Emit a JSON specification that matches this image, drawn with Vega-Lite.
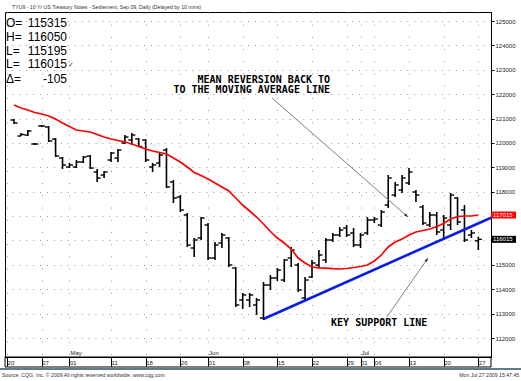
{
  "$schema": "https://vega.github.io/schema/vega-lite/v6.json",
  "width": 486,
  "height": 345,
  "autosize": {"type": "none"},
  "padding": {"left": 5, "top": 12, "right": 30, "bottom": 24},
  "background": "#ffffff",
  "config": {
    "view": {"stroke": "#000000", "strokeWidth": 1},
    "font": "Liberation Sans",
    "axis": {"labelOverlap": false, "labelFlush": false, "labelFontSize": 6, "labelColor": "#222222", "tickColor": "#000000", "domainColor": "#000000", "grid": true, "gridColor": "#999999", "gridWidth": 1, "title": null, "tickCount": 100},
    "axisX": {"labelAlign": "left", "labelBaseline": "top", "labelPadding": -7, "labelDx": 2, "tickSize": 9, "gridDash": [1, 11.19]},
    "axisY": {"labelPadding": 1, "tickSize": 3, "gridDash": [1, 5.93], "labelBaseline": "middle"}
  },
  "title": {"text": "TYU9 - 10 Yr US Treasury Notes - Settlement, Sep 09, Daily (Delayed by 10 mins)", "anchor": "start", "frame": "group", "fontSize": 5.2, "fontWeight": "normal", "color": "#333333", "offset": 3, "dx": 7, "dy": 6, "baseline": "bottom"},
  "datasets": {
    "bars": [
      {"i":1,"d":"2009-04-21","o":120942,"h":120983,"l":120778,"c":120819,"ma":121557},
      {"i":2,"d":"2009-04-22","o":120285,"h":120408,"l":120285,"c":120347,"ma":121434},
      {"i":3,"d":"2009-04-23","o":120326,"h":120532,"l":120285,"c":120491,"ma":121352},
      {"i":4,"d":"2009-04-24","o":119957,"h":119998,"l":119916,"c":119957,"ma":121249},
      {"i":5,"d":"2009-04-27","o":120696,"h":120737,"l":120655,"c":120696,"ma":121188},
      {"i":6,"d":"2009-04-28","o":120655,"h":120696,"l":120039,"c":120080,"ma":121106},
      {"i":7,"d":"2009-04-29","o":120162,"h":120203,"l":119424,"c":119465,"ma":120983},
      {"i":8,"d":"2009-04-30","o":119383,"h":119424,"l":118932,"c":119096,"ma":120819},
      {"i":9,"d":"2009-05-01","o":119014,"h":119178,"l":118973,"c":119096,"ma":120675},
      {"i":10,"d":"2009-05-04","o":119014,"h":119301,"l":118973,"c":119219,"ma":120532},
      {"i":11,"d":"2009-05-05","o":119219,"h":119465,"l":119178,"c":119424,"ma":120491},
      {"i":12,"d":"2009-05-06","o":119465,"h":119506,"l":118932,"c":118973,"ma":120450},
      {"i":13,"d":"2009-05-07","o":118809,"h":118932,"l":118399,"c":118563,"ma":120347},
      {"i":14,"d":"2009-05-08","o":118686,"h":118850,"l":118563,"c":118809,"ma":120244},
      {"i":15,"d":"2009-05-11","o":119301,"h":119629,"l":119219,"c":119588,"ma":120162},
      {"i":16,"d":"2009-05-12","o":119383,"h":119752,"l":119219,"c":119711,"ma":120101},
      {"i":17,"d":"2009-05-13","o":119998,"h":120326,"l":119957,"c":120244,"ma":120039},
      {"i":18,"d":"2009-05-14","o":120121,"h":120408,"l":119916,"c":120326,"ma":119957},
      {"i":19,"d":"2009-05-15","o":120162,"h":120203,"l":119834,"c":119855,"ma":119855},
      {"i":20,"d":"2009-05-18","o":120121,"h":120162,"l":119219,"c":119301,"ma":119752},
      {"i":21,"d":"2009-05-19","o":119014,"h":119178,"l":118809,"c":119096,"ma":119670},
      {"i":22,"d":"2009-05-20","o":119178,"h":119588,"l":119014,"c":119506,"ma":119609},
      {"i":23,"d":"2009-05-21","o":119711,"h":119793,"l":118153,"c":118194,"ma":119547},
      {"i":24,"d":"2009-05-22","o":118399,"h":118481,"l":117537,"c":117742,"ma":119383},
      {"i":25,"d":"2009-05-26","o":117783,"h":117865,"l":117168,"c":117250,"ma":119219},
      {"i":26,"d":"2009-05-27","o":117045,"h":117127,"l":115733,"c":115815,"ma":119014},
      {"i":27,"d":"2009-05-28","o":115692,"h":116102,"l":115322,"c":116020,"ma":118788},
      {"i":28,"d":"2009-05-29","o":116102,"h":116963,"l":116020,"c":116922,"ma":118665},
      {"i":29,"d":"2009-06-01","o":116635,"h":116717,"l":115199,"c":115281,"ma":118522},
      {"i":30,"d":"2009-06-02","o":115281,"h":115938,"l":115199,"c":115815,"ma":118358},
      {"i":31,"d":"2009-06-03","o":115897,"h":116307,"l":115692,"c":116225,"ma":118194},
      {"i":32,"d":"2009-06-04","o":116102,"h":116143,"l":114912,"c":114994,"ma":118029},
      {"i":33,"d":"2009-06-05","o":114871,"h":114912,"l":113272,"c":113354,"ma":117742},
      {"i":34,"d":"2009-06-08","o":113559,"h":113846,"l":113189,"c":113764,"ma":117455},
      {"i":35,"d":"2009-06-09","o":113559,"h":113846,"l":113272,"c":113764,"ma":117209},
      {"i":36,"d":"2009-06-10","o":113354,"h":113641,"l":112943,"c":113559,"ma":116963},
      {"i":37,"d":"2009-06-11","o":112820,"h":114297,"l":112738,"c":114174,"ma":116676},
      {"i":38,"d":"2009-06-12","o":114174,"h":114584,"l":113969,"c":114461,"ma":116368},
      {"i":39,"d":"2009-06-15","o":114461,"h":114871,"l":114338,"c":114789,"ma":116102},
      {"i":40,"d":"2009-06-16","o":114379,"h":115240,"l":114297,"c":115199,"ma":115897},
      {"i":41,"d":"2009-06-17","o":115281,"h":115733,"l":114912,"c":115609,"ma":115651},
      {"i":42,"d":"2009-06-18","o":114994,"h":115076,"l":113887,"c":113969,"ma":115281},
      {"i":43,"d":"2009-06-19","o":113641,"h":114502,"l":113559,"c":114379,"ma":115076},
      {"i":44,"d":"2009-06-22","o":114502,"h":115199,"l":114461,"c":115076,"ma":114912},
      {"i":45,"d":"2009-06-23","o":114994,"h":115609,"l":114871,"c":115404,"ma":114879},
      {"i":46,"d":"2009-06-24","o":115199,"h":116102,"l":115076,"c":116020,"ma":114863},
      {"i":47,"d":"2009-06-25","o":116020,"h":116307,"l":115938,"c":116225,"ma":114842},
      {"i":48,"d":"2009-06-26","o":116225,"h":116553,"l":116143,"c":116430,"ma":114830},
      {"i":49,"d":"2009-06-29","o":116512,"h":116635,"l":116143,"c":116225,"ma":114851},
      {"i":50,"d":"2009-06-30","o":116307,"h":116512,"l":115733,"c":115815,"ma":114892},
      {"i":51,"d":"2009-07-01","o":115815,"h":116307,"l":115692,"c":116225,"ma":114933},
      {"i":52,"d":"2009-07-02","o":116307,"h":116963,"l":116225,"c":116840,"ma":114994},
      {"i":53,"d":"2009-07-06","o":116840,"h":116963,"l":116717,"c":116881,"ma":115158},
      {"i":54,"d":"2009-07-07","o":116635,"h":117250,"l":116553,"c":117168,"ma":115404},
      {"i":55,"d":"2009-07-08","o":117455,"h":118686,"l":117332,"c":118563,"ma":115733},
      {"i":56,"d":"2009-07-09","o":117865,"h":118399,"l":117783,"c":118276,"ma":115938},
      {"i":57,"d":"2009-07-10","o":118071,"h":118686,"l":117947,"c":118563,"ma":116061},
      {"i":58,"d":"2009-07-13","o":118358,"h":118973,"l":118276,"c":118809,"ma":116225},
      {"i":59,"d":"2009-07-14","o":117988,"h":118071,"l":117578,"c":117865,"ma":116348},
      {"i":60,"d":"2009-07-15","o":117373,"h":117455,"l":116635,"c":116717,"ma":116409},
      {"i":61,"d":"2009-07-16","o":116635,"h":117168,"l":116553,"c":117045,"ma":116471},
      {"i":62,"d":"2009-07-17","o":117045,"h":117168,"l":116225,"c":116348,"ma":116573},
      {"i":63,"d":"2009-07-20","o":116430,"h":117045,"l":116020,"c":116922,"ma":116696},
      {"i":64,"d":"2009-07-21","o":116635,"h":117947,"l":116430,"c":117865,"ma":116881},
      {"i":65,"d":"2009-07-22","o":117742,"h":117783,"l":116635,"c":116758,"ma":116984},
      {"i":66,"d":"2009-07-23","o":117250,"h":117455,"l":115938,"c":116020,"ma":117004},
      {"i":67,"d":"2009-07-24","o":116225,"h":116430,"l":116102,"c":116307,"ma":117004},
      {"i":68,"d":"2009-07-27","o":115984,"h":116156,"l":115609,"c":116047,"ma":117045}
    ],
    "support": [{"i":37,"v":112780},{"i":69.83,"v":116934}],
    "arrows": [
      {"a":"mean","i":38.23,"v":121844,"i2":57.85,"v2":116963},
      {"a":"key","i":54.8,"v":112861,"i2":60.74,"v2":115281}
    ],
    "notes": [
      {"v":122603,"t":"MEAN REVERSION BACK TO"},
      {"v":122193,"t":"TO THE MOVING AVERAGE LINE"}
    ],
    "hdr": [
      {"v":124941,"lab":"O=","val":"115315"},
      {"v":124367,"lab":"H=","val":"116050"},
      {"v":123792,"lab":"L=","val":"115195"},
      {"v":123239,"lab":"L=","val":"116015"},
      {"v":122644,"lab":"Δ=","val":"-105"}
    ],
    "months": [{"i":9,"t":"May"},{"i":29,"t":"Jun"},{"i":51,"t":"Jul"}],
    "tags": [{"v":117045,"t":"117015","k":"ma"},{"v":116047,"t":"116015","k":"last"}]
  },
  "layer": [
    {
      "data": {"name": "bars"},
      "mark": {"type": "rule", "color": "#000000", "strokeWidth": 1.6},
      "encoding": {
        "x": {"field": "i", "type": "quantitative", "scale": {"domain": [-0.3, 69.83], "nice": false, "zero": false},
          "axis": {"orient": "bottom", "tickCount": 100, "values": [0,5,9,15,20,25,29,34,39,44,49,51,53,58,63,68],
            "labelExpr": "['20','27','01','11','18','26','01','08','15','22','29','01','06','13','20','27'][indexof([0,5,9,15,20,25,29,34,39,44,49,51,53,58,63,68], datum.value)]"}},
        "y": {"field": "l", "type": "quantitative", "scale": {"domain": [111221, 125372], "nice": false, "zero": false},
          "axis": {"orient": "right", "tickCount": 100, "values": [112000,113000,114000,115000,116000,117000,118000,119000,120000,121000,122000,123000,124000,125000], "format": "d",
            "labelExpr": "datum.value == 116000 || datum.value == 117000 ? '' : datum.label"}},
        "y2": {"field": "h"}
      }
    },
    {
      "data": {"name": "bars"},
      "mark": {"type": "tick", "orient": "horizontal", "size": 3.5, "thickness": 1.4, "xOffset": -1.8, "color": "#000000", "opacity": 1},
      "encoding": {
        "x": {"field": "i", "type": "quantitative", "axis": {"orient": "bottom"}},
        "y": {"field": "o", "type": "quantitative", "axis": {"orient": "right"}}
      }
    },
    {
      "data": {"name": "bars"},
      "mark": {"type": "tick", "orient": "horizontal", "size": 3.5, "thickness": 1.4, "xOffset": 1.8, "color": "#000000", "opacity": 1},
      "encoding": {
        "x": {"field": "i", "type": "quantitative", "axis": {"orient": "bottom"}},
        "y": {"field": "c", "type": "quantitative", "axis": {"orient": "right"}}
      }
    },
    {
      "data": {"name": "bars"},
      "mark": {"type": "line", "color": "#ff0000", "strokeWidth": 1.7},
      "encoding": {
        "x": {"field": "i", "type": "quantitative", "axis": {"orient": "bottom"}},
        "y": {"field": "ma", "type": "quantitative", "axis": {"orient": "right"}}
      }
    },
    {
      "data": {"name": "support"},
      "mark": {"type": "line", "color": "#0a1ee6", "strokeWidth": 2.6},
      "encoding": {
        "x": {"field": "i", "type": "quantitative", "axis": {"orient": "bottom"}},
        "y": {"field": "v", "type": "quantitative", "axis": {"orient": "right"}}
      }
    },
    {
      "data": {"name": "arrows"},
      "mark": {"type": "rule", "color": "#808080", "strokeWidth": 1},
      "encoding": {
        "x": {"field": "i", "type": "quantitative", "axis": {"orient": "bottom"}},
        "y": {"field": "v", "type": "quantitative", "axis": {"orient": "right"}},
        "x2": {"field": "i2"},
        "y2": {"field": "v2"}
      }
    },
    {
      "data": {"name": "arrows"},
      "transform": [{"filter": "datum.a == 'mean'"}],
      "mark": {"type": "point", "shape": "M0,0L-0.75,2L0.75,2Z", "filled": true, "color": "#333333", "opacity": 1, "size": 16, "angle": 131},
      "encoding": {
        "x": {"field": "i2", "type": "quantitative", "axis": {"orient": "bottom"}},
        "y": {"field": "v2", "type": "quantitative", "axis": {"orient": "right"}}
      }
    },
    {
      "data": {"name": "arrows"},
      "transform": [{"filter": "datum.a == 'key'"}],
      "mark": {"type": "point", "shape": "M0,0L-0.75,2L0.75,2Z", "filled": true, "color": "#333333", "opacity": 1, "size": 16, "angle": 35},
      "encoding": {
        "x": {"field": "i2", "type": "quantitative", "axis": {"orient": "bottom"}},
        "y": {"field": "v2", "type": "quantitative", "axis": {"orient": "right"}}
      }
    },
    {
      "data": {"name": "notes"},
      "mark": {"type": "text", "align": "right", "baseline": "middle", "font": "DejaVu Sans Mono", "fontSize": 10, "fontWeight": "bold", "color": "#000000"},
      "encoding": {
        "x": {"datum": 46.6, "type": "quantitative", "axis": {"orient": "bottom"}},
        "y": {"field": "v", "type": "quantitative", "axis": {"orient": "right"}},
        "text": {"field": "t"}
      }
    },
    {
      "data": {"values": [{"v": 112636, "t": "KEY SUPPORT LINE"}]},
      "mark": {"type": "text", "align": "left", "baseline": "middle", "font": "DejaVu Sans Mono", "fontSize": 10, "fontWeight": "bold", "color": "#000000"},
      "encoding": {
        "x": {"datum": 46.75, "type": "quantitative", "axis": {"orient": "bottom"}},
        "y": {"field": "v", "type": "quantitative", "axis": {"orient": "right"}},
        "text": {"field": "t"}
      }
    },
    {
      "data": {"name": "hdr"},
      "mark": {"type": "text", "align": "left", "baseline": "middle", "fontSize": 12, "color": "#000000"},
      "encoding": {
        "x": {"datum": -0.15, "type": "quantitative", "axis": {"orient": "bottom"}},
        "y": {"field": "v", "type": "quantitative", "axis": {"orient": "right"}},
        "text": {"field": "lab"}
      }
    },
    {
      "data": {"name": "hdr"},
      "mark": {"type": "text", "align": "right", "baseline": "middle", "fontSize": 12, "color": "#000000"},
      "encoding": {
        "x": {"datum": 8.65, "type": "quantitative", "axis": {"orient": "bottom"}},
        "y": {"field": "v", "type": "quantitative", "axis": {"orient": "right"}},
        "text": {"field": "val"}
      }
    },
    {
      "data": {"values": [{"v": 123239, "t": "✓"}]},
      "mark": {"type": "text", "align": "left", "baseline": "middle", "fontSize": 7, "dy": 1, "color": "#444444"},
      "encoding": {
        "x": {"datum": 8.75, "type": "quantitative", "axis": {"orient": "bottom"}},
        "y": {"field": "v", "type": "quantitative", "axis": {"orient": "right"}},
        "text": {"field": "t"}
      }
    },
    {
      "data": {"name": "months"},
      "mark": {"type": "text", "align": "left", "baseline": "bottom", "fontSize": 6, "dx": 1, "dy": -1, "color": "#222222"},
      "encoding": {
        "x": {"field": "i", "type": "quantitative", "axis": {"orient": "bottom"}},
        "y": {"datum": 111221, "type": "quantitative", "axis": {"orient": "right"}},
        "text": {"field": "t"}
      }
    },
    {
      "data": {"name": "tags"},
      "mark": {"type": "rect", "height": 7},
      "encoding": {
        "x": {"datum": 69.83, "type": "quantitative", "axis": {"orient": "bottom"}},
        "x2": {"datum": 73.44},
        "y": {"field": "v", "type": "quantitative", "axis": {"orient": "right"}},
        "color": {"field": "k", "type": "nominal", "scale": {"domain": ["ma", "last"], "range": ["#ff0000", "#000000"]}, "legend": null}
      }
    },
    {
      "data": {"name": "tags"},
      "mark": {"type": "text", "align": "left", "baseline": "middle", "fontSize": 6, "dx": 2, "color": "#ffffff"},
      "encoding": {
        "x": {"datum": 69.83, "type": "quantitative", "axis": {"orient": "bottom"}},
        "y": {"field": "v", "type": "quantitative", "axis": {"orient": "right"}},
        "text": {"field": "t"}
      }
    },
    {
      "data": {"values": [{"v0": 110811, "v1": 111221}]},
      "mark": {"type": "rect", "fill": null, "stroke": "#000000", "strokeWidth": 1},
      "encoding": {
        "x": {"datum": -0.3, "type": "quantitative", "axis": {"orient": "bottom"}},
        "x2": {"datum": 69.83},
        "y": {"field": "v0", "type": "quantitative", "axis": {"orient": "right"}},
        "y2": {"field": "v1"}
      }
    },
    {
      "data": {"values": [{"v": 110728}]},
      "mark": {"type": "rule", "color": "#2f4f5f", "strokeWidth": 1.5},
      "encoding": {
        "x": {"datum": -1.03, "type": "quantitative", "axis": {"orient": "bottom"}},
        "x2": {"datum": 74.2},
        "y": {"field": "v", "type": "quantitative", "axis": {"orient": "right"}}
      }
    },
    {
      "data": {"values": [{"v": 110482, "t": "Source: CQG, Inc. © 2009 All rights reserved worldwide. www.cqg.com"}]},
      "mark": {"type": "text", "align": "left", "baseline": "middle", "fontSize": 5.2, "color": "#333333"},
      "encoding": {
        "x": {"datum": -0.73, "type": "quantitative", "axis": {"orient": "bottom"}},
        "y": {"field": "v", "type": "quantitative", "axis": {"orient": "right"}},
        "text": {"field": "t"}
      }
    },
    {
      "data": {"values": [{"v": 110482, "t": "Mon Jul 27 2009 15:47:45"}]},
      "mark": {"type": "text", "align": "right", "baseline": "middle", "fontSize": 5.2, "color": "#333333"},
      "encoding": {
        "x": {"datum": 73.9, "type": "quantitative", "axis": {"orient": "bottom"}},
        "y": {"field": "v", "type": "quantitative", "axis": {"orient": "right"}},
        "text": {"field": "t"}
      }
    }
  ]
}
